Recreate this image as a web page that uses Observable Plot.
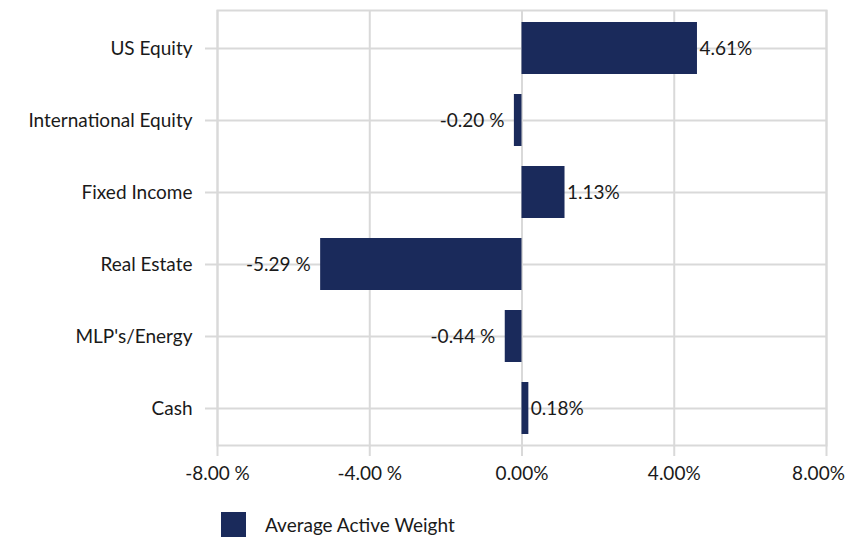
<!DOCTYPE html>
<html>
<head>
<meta charset="utf-8">
<script src="https://cdn.jsdelivr.net/npm/d3@7"></script>
<script src="https://cdn.jsdelivr.net/npm/@observablehq/plot@0.6"></script>
<style>
  body { margin: 0; background: #fff; font-family: Lato, "Open Sans", sans-serif; }
  #wrap { position: relative; width: 848px; height: 540px; }
  #legend { position: absolute; left: 221px; top: 512px; height: 25px; display: flex; align-items: center; font-size: 19px; color: #1a1a1a; }
  #legend .sw { width: 25px; height: 25px; background: #1a2a5b; margin-right: 19px; }
</style>
</head>
<body>
<div id="wrap">
  <div id="chart"></div>
  <div id="legend"><div class="sw"></div><span>Average Active Weight</span></div>
</div>
<script>
const categories = ["US Equity", "International Equity", "Fixed Income", "Real Estate", "MLP's/Energy", "Cash"];
const values = [4.61, -0.20, 1.13, -5.29, -0.44, 0.18];
const valueLabels = ["4.61%", "-0.20 %", "1.13%", "-5.29 %", "-0.44 %", "0.18%"];
const xTicks = [-8, -4, 0, 4, 8];
const xTickLabels = ["-8.00 %", "-4.00 %", "0.00%", "4.00%", "8.00%"];

const data = categories.map((c, i) => ({category: c, value: values[i], label: valueLabels[i]}));
const grid = "#d9d9d9";
const barColor = "#1a2a5b";
const lastTick = xTicks[xTicks.length - 1];
const fmt = d => xTickLabels[xTicks.indexOf(d)];

const chart = Plot.plot({
  width: 848,
  height: 490,
  marginLeft: 217,
  marginRight: 22,
  marginTop: 10,
  marginBottom: 45,
  style: {fontSize: "19px", fontFamily: "Lato, 'Open Sans', sans-serif", color: "#1a1a1a", background: "#fff"},
  x: {domain: [-8, 8]},
  y: {domain: categories, paddingInner: 0.28, paddingOuter: 0.14},
  marks: [
    Plot.frame({stroke: grid, strokeWidth: 2}),
    Plot.ruleX(xTicks, {stroke: grid, strokeWidth: 2}),
    Plot.ruleY(categories, {y: d => d, stroke: grid, strokeWidth: 2}),
    Plot.axisX({ticks: xTicks, tickFormat: d => d === lastTick ? "" : fmt(d), tickSize: 11, tickPadding: 10, stroke: grid, strokeWidth: 2, label: null, fill: "#1a1a1a"}),
    Plot.axisX({ticks: [lastTick], tickFormat: fmt, tickSize: 0, tickPadding: 21, dx: -8, label: null, fill: "#1a1a1a"}),
    Plot.axisY({tickSize: 12, tickPadding: 13, stroke: grid, strokeWidth: 2, label: null, fill: "#1a1a1a"}),
    Plot.barX(data, {x: "value", y: "category", fill: barColor}),
    Plot.text(data.filter(d => d.value >= 0), {x: "value", y: "category", text: "label", textAnchor: "start", dx: 2, fill: "#1a1a1a"}),
    Plot.text(data.filter(d => d.value < 0), {x: "value", y: "category", text: "label", textAnchor: "end", dx: -10, fill: "#1a1a1a"})
  ]
});
document.getElementById("chart").appendChild(chart);
</script>
</body>
</html>
